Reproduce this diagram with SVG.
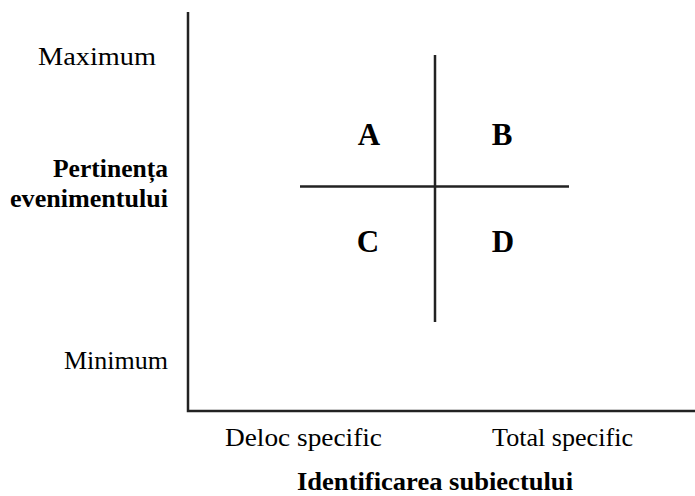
<svg xmlns="http://www.w3.org/2000/svg" width="695" height="496" viewBox="0 0 695 496">
<style>
.t{font-family:"Liberation Serif","Times New Roman",serif;font-size:26px;fill:#000}
.b{font-weight:bold}
.q{font-family:"Liberation Serif","Times New Roman",serif;font-size:31px;font-weight:bold;fill:#000;text-anchor:middle}
.ln{stroke:#222;stroke-width:2.5;fill:none}
</style>
<rect width="695" height="496" fill="#fff"/>
<g id="connectors">
<path class="ln" d="M188,12 V411 H695"/>
<line class="ln" x1="300" y1="186.5" x2="569" y2="186.5"/>
<line class="ln" x1="435" y1="55" x2="435" y2="322"/>
</g>
<g id="y-labels">
<text class="t" x="38" y="65" textLength="118" lengthAdjust="spacingAndGlyphs">Maximum</text>
<text class="t b" x="53" y="177" textLength="115" lengthAdjust="spacingAndGlyphs">Pertinența</text>
<text class="t b" x="10" y="207" textLength="158" lengthAdjust="spacingAndGlyphs">evenimentului</text>
<text class="t" x="64" y="369" textLength="104" lengthAdjust="spacingAndGlyphs">Minimum</text>
</g>
<g id="x-labels">
<text class="t" x="225" y="446" textLength="157" lengthAdjust="spacingAndGlyphs">Deloc specific</text>
<text class="t" x="492" y="446" textLength="141" lengthAdjust="spacingAndGlyphs">Total specific</text>
<text class="t b" x="297" y="490" textLength="276" lengthAdjust="spacingAndGlyphs">Identificarea subiectului</text>
</g>
<g id="qA"><text class="q" x="369" y="145">A</text></g>
<g id="qB"><text class="q" x="502" y="145">B</text></g>
<g id="qC"><text class="q" x="368" y="252">C</text></g>
<g id="qD"><text class="q" x="503" y="252">D</text></g>
</svg>
